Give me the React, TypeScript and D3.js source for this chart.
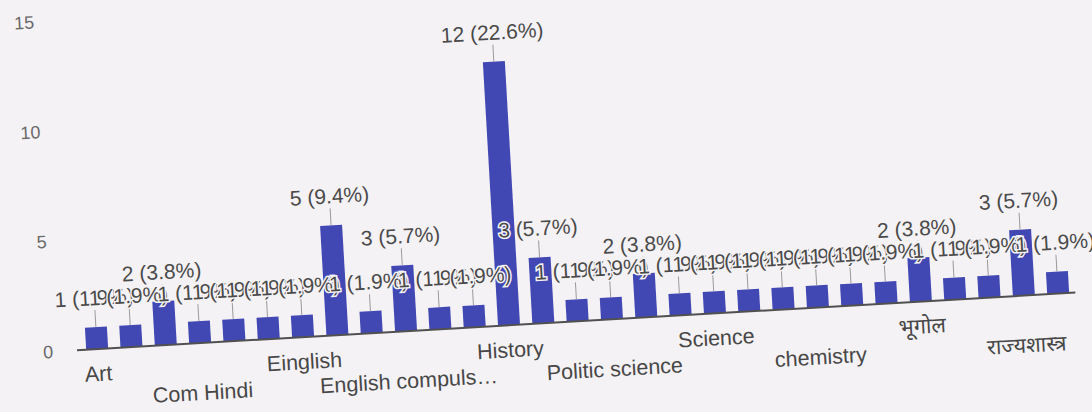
import React from "react";
import * as d3 from "d3";

// only every third category label is shown on the axis, the rest stay empty
const categories = [
  "Art", "", "", "Com Hindi", "", "", "Einglish", "", "", "English compuls…",
  "", "", "History", "", "", "Politic science", "", "", "Science", "", "",
  "chemistry", "", "", "भूगोल", "", "", "राज्यशास्त्र", "",
];
const counts = [1, 1, 2, 1, 1, 1, 1, 5, 1, 3, 1, 1, 12, 3, 1, 1, 2, 1, 1, 1, 1, 1, 1, 1, 2, 1, 1, 3, 1];
const yTicks = [0, 5, 10, 15];

const W = 1092;
const H = 412;
const left = 80;
const right = 1077;
const base = 350;
const top = 20;
const tilt = -3.3; // the photo is taken slightly askew

const font = "'Liberation Sans', Arial, 'Noto Sans', sans-serif";

export default function App() {
  const total = d3.sum(counts);
  const x = d3
    .scaleBand<number>()
    .domain(d3.range(counts.length))
    .range([left, right])
    .paddingInner(0.36)
    .paddingOuter(0.18);
  const y = d3.scaleLinear().domain([0, 15]).range([base, top]);
  const cx = (i: number) => (x(i) as number) + x.bandwidth() / 2;

  return (
    <svg width={W} height={H} style={{ position: "absolute", left: 0, top: 0 }} fontFamily={font}>
      <rect width={W} height={H} fill="#f5f2f5" />
      <g transform={`rotate(${tilt}, ${left}, ${base})`}>
        {/* y axis labels */}
        {yTicks.map((t) => (
          <text key={t} x={left - 27} y={y(t)} dy="0.35em" textAnchor="end" fontSize={18} fill="#6a6a6a">
            {t}
          </text>
        ))}

        {/* bars */}
        {counts.map((v, i) => (
          <rect
            key={i}
            x={x(i)}
            y={y(v)}
            width={x.bandwidth()}
            height={base - y(v)}
            fill="#4148b4"
          />
        ))}

        {/* baseline */}
        <line x1={left - 3} x2={right} y1={base} y2={base} stroke="#505050" strokeWidth={2} />

        {/* annotation stems */}
        {counts.map((v, i) => (
          <line key={i} x1={cx(i)} x2={cx(i)} y1={y(v)} y2={y(v) - 17} stroke="#9a9a9a" strokeWidth={1} />
        ))}

        {/* annotations */}
        {counts.map((v, i) => (
          <text
            key={i}
            x={cx(i)}
            y={y(v) - 22}
            textAnchor="middle"
            fontSize={21}
            fill="#4a4a4a"
            stroke="#f5f2f5"
            strokeWidth={3}
            paintOrder="stroke"
          >
            {`${v} (${((v / total) * 100).toFixed(1)}%)`}
          </text>
        ))}

        {/* category labels, two staggered rows */}
        {categories.map((c, i) =>
          c ? (
            <text
              key={i}
              x={cx(i)}
              y={base + (Math.floor(i / 3) % 2 === 0 ? 32 : 57)}
              textAnchor="middle"
              fontSize={21.5}
              fill="#474747"
            >
              {c}
            </text>
          ) : null
        )}
      </g>
    </svg>
  );
}
